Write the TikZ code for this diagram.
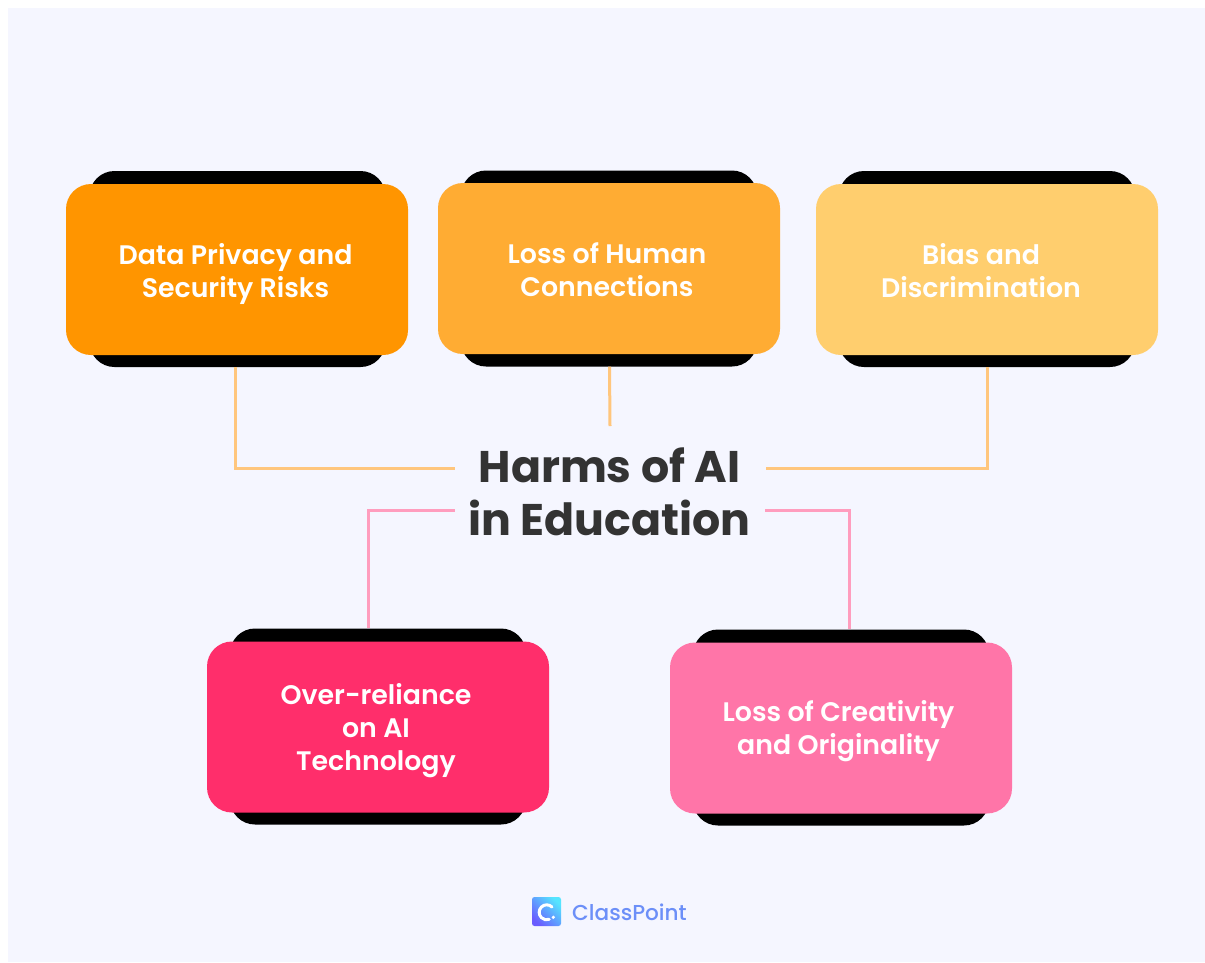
\documentclass[tikz,border=0pt]{standalone}
\usepackage{fontspec}
\setmainfont{Poppins}
\newfontfamily\semifont{Poppins SemiBold}
\newfontfamily\medfont{Poppins Medium}
\usepackage{tikz}

\definecolor{panelcol}{HTML}{F5F6FF}
\definecolor{datacol}{HTML}{FF9500}
\definecolor{humancol}{HTML}{FFAC33}
\definecolor{biascol}{HTML}{FFCE6E}
\definecolor{relycol}{HTML}{FF2E6B}
\definecolor{creatcol}{HTML}{FF75A8}
\definecolor{orangeline}{HTML}{FFC67D}
\definecolor{pinkline}{HTML}{FF9DBE}
\definecolor{titlecol}{HTML}{333333}
\definecolor{brandcol}{HTML}{6C8FF8}
\definecolor{logoA}{HTML}{55E5FF}
\definecolor{logoB}{HTML}{6A5CFF}

\tikzset{
    card/.style={draw=none, rounded corners=25pt, minimum width=342pt, minimum height=171pt, inner sep=0pt},
    cardback/.style={fill=black, rounded corners=25pt, minimum width=296pt, minimum height=196pt, inner sep=0pt},
    cardtext/.style={inner sep=0pt, align=center, text=white, font=\semifont\fontsize{26.8}{33}\selectfont},
    warmline/.style={draw=orangeline, line width=3pt},
    coolline/.style={draw=pinkline, line width=3pt}
}

\begin{document}
\begin{tikzpicture}[x=1pt, y=-1pt]
    \useasboundingbox (0,0) rectangle (1205,962);
    \fill[white] (0,0) rectangle (1205,962);
    \fill[panelcol] (8,8) rectangle (1205,962);

    \node[font=\bfseries\fontsize{44.3}{53}\selectfont, text=titlecol, align=center, inner sep=0pt] (title) at (609.5,492) {Harms of AI\\in Education};

    \coordinate (warmL) at (455,468);
    \coordinate (warmT) at (610,426);
    \coordinate (warmR) at (766,468);
    \coordinate (coolL) at (455,510);
    \coordinate (coolR) at (765,510);

    \node[cardback] (dataB) at (237.5,269) {};
    \node[cardback] (humanB) at (609,268.5) {};
    \node[cardback] (biasB) at (987,269) {};
    \node[cardback] (relyB) at (378,726.5) {};
    \node[cardback] (creatB) at (841,727.5) {};

    \draw[warmline] ([xshift=-2.5pt]dataB.south) |- (warmL);
    \draw[warmline] ([xshift=0.5pt]humanB.south) -- (warmT);
    \draw[warmline] ([xshift=0.5pt]biasB.south) |- (warmR);
    \draw[coolline] ([xshift=-10pt]relyB.north) |- (coolL);
    \draw[coolline] ([xshift=8.5pt]creatB.north) |- (coolR);

    \node[card, fill=datacol] (data) at (237,269.5) {};
    \node[card, fill=humancol] (human) at (609,268.5) {};
    \node[card, fill=biascol] (bias) at (987,269.5) {};
    \node[card, fill=relycol] (rely) at (378,727) {};
    \node[card, fill=creatcol] (creat) at (841,728) {};

    \node[cardtext] (dataT) at (235.5,274) {Data Privacy and\\Security Risks};
    \node[cardtext] (humanT) at (607,269.5) {Loss of Human\\Connections};
    \node[cardtext] (biasT) at (981,270.5) {Bias and\\Discrimination};
    \node[cardtext] (relyT) at (376,730.5) {Over-reliance\\on AI\\Technology};
    \node[cardtext] (creatT) at (838.5,731) {Loss of Creativity\\and Originality};

    \node[rounded corners=2.5pt, minimum size=29pt, inner sep=0pt, left color=logoA, right color=logoB, shading angle=315] (logo) at (546.5,911.5) {};
    \draw[white, line width=3pt, line cap=round] ([shift={(5.5,-4.5)}]logo.center) arc[start angle=45, end angle=290, radius=7.5pt];
    \fill[white] ([shift={(6.8,5.8)}]logo.center) circle[radius=1.8pt];
    \node[font=\medfont\fontsize{21.6}{25}\selectfont, text=brandcol, anchor=west, inner sep=0pt] (brand) at (572,912.5) {ClassPoint};
\end{tikzpicture}
\end{document}
